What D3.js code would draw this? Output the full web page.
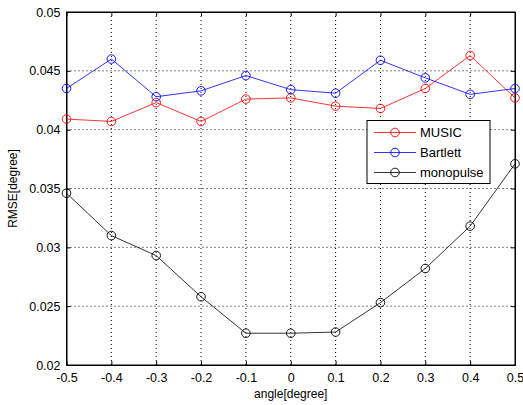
<!DOCTYPE html>
<html><head><meta charset="utf-8">
<script src="https://cdn.jsdelivr.net/npm/d3@7"></script>
<style>body{margin:0;background:#fff}svg{display:block}text{font-family:"Liberation Sans",Arial,sans-serif}</style>
</head><body><svg id="c" width="523" height="405"></svg>
<script>
const angles = [-0.5,-0.4,-0.3,-0.2,-0.1,0,0.1,0.2,0.3,0.4,0.5];
const music = [0.0409,0.0407,0.0423,0.0407,0.0426,0.0427,0.0420,0.0418,0.0435,0.0463,0.0427];
const bartlett = [0.0435,0.0460,0.0428,0.0433,0.0446,0.0434,0.0431,0.0459,0.0444,0.0430,0.0435];
const monopulse = [0.0346,0.0310,0.0293,0.0258,0.0227,0.0227,0.0228,0.0253,0.0282,0.0318,0.0371];
const xTicks = [-0.5,-0.4,-0.3,-0.2,-0.1,0,0.1,0.2,0.3,0.4,0.5];
const yTicks = [0.02,0.025,0.03,0.035,0.04,0.045,0.05];
const seriesNames = ["MUSIC","Bartlett","monopulse"];
const seriesColors = ["#ff0000","#0000ff","#000000"];

const L=66.5,R=515,T=12,B=365;
const svg=d3.select("#c");
const x=d3.scaleLinear().domain([-0.5,0.5]).range([L,R]);
const y=d3.scaleLinear().domain([0.02,0.05]).range([B,T]);

// grid
const g=svg.append("g");
g.selectAll(".gx").data(xTicks.slice(1,-1)).enter().append("line")
 .attr("x1",d=>x(d)).attr("x2",d=>x(d)).attr("y1",T).attr("y2",B)
 .attr("stroke","#000").attr("stroke-width",1).attr("stroke-dasharray","1,3");
g.selectAll(".gy").data(yTicks.slice(1,-1)).enter().append("line")
 .attr("x1",L).attr("x2",R).attr("y1",d=>y(d)).attr("y2",d=>y(d))
 .attr("stroke","#000").attr("stroke-width",1).attr("stroke-dasharray","1,3");

// axes
const fmt=d=>String(+d.toFixed(3));
const xa=svg.append("g").attr("transform",`translate(0,${B})`)
 .call(d3.axisBottom(x).tickValues(xTicks).tickFormat(fmt).tickSizeInner(-4).tickSizeOuter(0).tickPadding(8));
const xa2=svg.append("g").attr("transform",`translate(0,${T})`)
 .call(d3.axisTop(x).tickValues(xTicks).tickFormat("").tickSizeInner(-4).tickSizeOuter(0));
const ya=svg.append("g").attr("transform",`translate(${L},0)`)
 .call(d3.axisLeft(y).tickValues(yTicks).tickFormat(fmt).tickSizeInner(-4).tickSizeOuter(0).tickPadding(6));
const ya2=svg.append("g").attr("transform",`translate(${R},0)`)
 .call(d3.axisRight(y).tickValues(yTicks).tickFormat("").tickSizeInner(-4).tickSizeOuter(0));
[xa,xa2,ya,ya2].forEach(a=>{a.selectAll("path,line").attr("stroke","#000");a.selectAll("text").attr("fill","#000").attr("font-size",12.5).attr("font-family","Liberation Sans, Arial, sans-serif");});
svg.append("rect").attr("x",L).attr("y",T).attr("width",R-L).attr("height",B-T).attr("fill","none").attr("stroke","#000");

// series
const data=[music,bartlett,monopulse];
const line=d3.line().x((d,i)=>x(angles[i])).y(d=>y(d));
data.forEach((s,k)=>{
  svg.append("path").datum(s).attr("d",line).attr("fill","none").attr("stroke",seriesColors[k]).attr("stroke-width",0.8);
  svg.selectAll(null).data(s).enter().append("circle")
   .attr("cx",(d,i)=>x(angles[i])).attr("cy",d=>y(d)).attr("r",4.3)
   .attr("fill","none").attr("stroke",seriesColors[k]).attr("stroke-width",0.9);
});

// axis labels
svg.append("text").attr("x",(L+R)/2).attr("y",398).attr("text-anchor","middle").attr("font-size",12).text("angle[degree]");
svg.append("text").attr("transform",`translate(17,${(T+B)/2}) rotate(-90)`).attr("text-anchor","middle").attr("font-size",12).text("RMSE[degree]");

// legend
const lg=svg.append("g");
lg.append("rect").attr("x",367).attr("y",120.5).attr("width",123).attr("height",63).attr("fill","#fff").attr("stroke","#000");
seriesNames.forEach((n,k)=>{
  const yy=132.5+k*20;
  lg.append("line").attr("x1",374).attr("x2",416).attr("y1",yy).attr("y2",yy).attr("stroke",seriesColors[k]).attr("stroke-width",0.8);
  lg.append("circle").attr("cx",395).attr("cy",yy).attr("r",4.3).attr("fill","none").attr("stroke",seriesColors[k]).attr("stroke-width",0.9);
  lg.append("text").attr("x",420).attr("y",yy+4.8).attr("font-size",13).text(n);
});
</script></body></html>
